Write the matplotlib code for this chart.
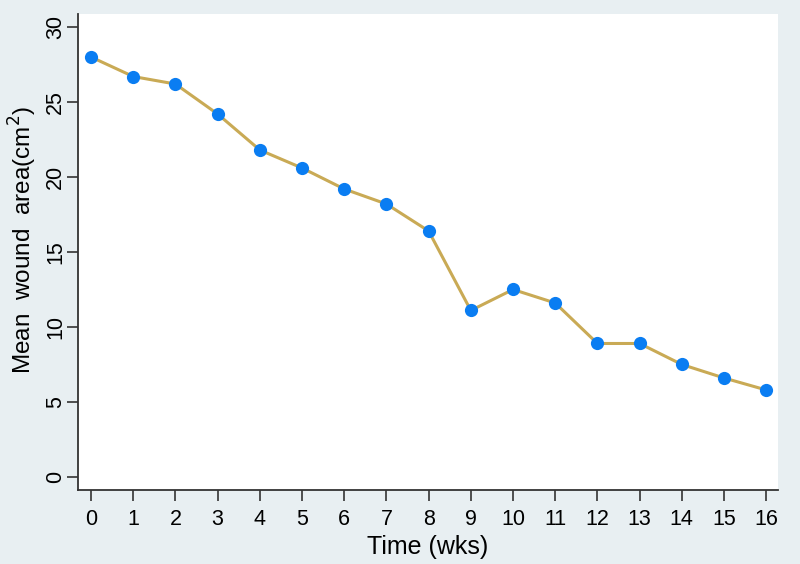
import matplotlib.pyplot as plt

# data
weeks = list(range(17))
wound_area = [28.0, 26.7, 26.2, 24.2, 21.8, 20.6, 19.2, 18.2, 16.4,
              11.1, 12.5, 11.6, 8.9, 8.9, 7.5, 6.6, 5.8]
y_ticks = [0, 5, 10, 15, 20, 25, 30]

plt.rcParams['font.family'] = ['Liberation Sans', 'DejaVu Sans']

bg = '#e8eff2'
fig = plt.figure(figsize=(8, 5.64), dpi=100, facecolor=bg)
ax = fig.add_axes([78 / 800, 1 - 490 / 564, 700 / 800, 476 / 564])
ax.set_facecolor('white')

ax.plot(weeks, wound_area, color='#c9aa55', linewidth=2.2, zorder=2)
ax.plot(weeks, wound_area, 'o', color='#0a7df2', markersize=9.5,
        markeredgewidth=0, zorder=3)

ax.set_xlim(-0.31, 16.28)
ax.set_ylim(-0.87, 30.87)
ax.set_xticks(weeks)
ax.set_yticks(y_ticks)
ax.set_yticklabels([str(t) for t in y_ticks], rotation=90, va='center')

for s in ['top', 'right']:
    ax.spines[s].set_visible(False)
for s in ['left', 'bottom']:
    ax.spines[s].set_color('#333333')
    ax.spines[s].set_linewidth(1.3)

ax.tick_params(direction='out', length=8, width=1.2, color='#333333',
               labelsize=15.5)
ax.tick_params(axis='x', pad=6)
ax.tick_params(axis='y', pad=0.5)
ax.set_xlabel('Time (wks)', fontsize=18, labelpad=3)
ax.set_ylabel('Mean  wound  area(cm$^2$)', fontsize=17.5)
ax.yaxis.set_label_coords(-0.056, 0.525)

plt.savefig('out.png', dpi=100, facecolor=bg)
plt.close()
